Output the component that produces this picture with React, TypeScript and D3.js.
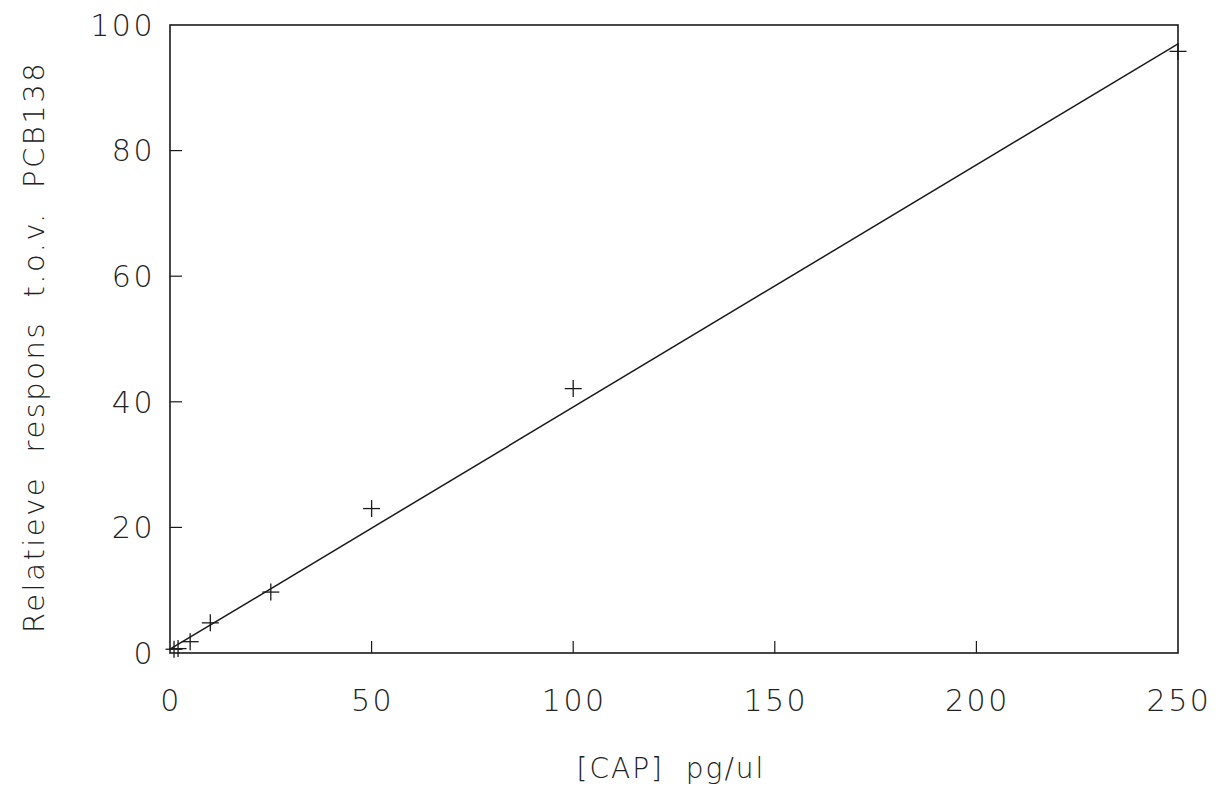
import React from "react";
import * as d3 from "d3";

const concX = [1, 2, 5, 10, 25, 50, 100, 250];
const respY = [0.6, 0.7, 1.8, 4.8, 9.7, 23.0, 42.1, 95.8];
const fitX = [0, 250];
const fitY = [0.6, 97.0];
const xTicks = [0, 50, 100, 150, 200, 250];
const yTicks = [0, 20, 40, 60, 80, 100];
const xLabel = "[CAP]  pg/ul";
const yLabel = "Relatieve  respons  t.o.v.  PCB138";

const W = 1217;
const H = 794;
const M = { left: 170, right: 1178, top: 25, bottom: 653 };
const FONT = "'DejaVu Sans', 'Noto Sans', sans-serif";

export default function App() {
  const x = d3.scaleLinear().domain([0, 250]).range([M.left, M.right]);
  const y = d3.scaleLinear().domain([0, 100]).range([M.bottom, M.top]);
  const line = d3
    .line<number>()
    .x((_, i) => x(fitX[i]))
    .y((d) => y(d));
  const arm = 8.5;
  const tickLen = 12;
  const col = "#1a1a1a";
  return (
    <svg
      width={W}
      height={H}
      style={{ position: "absolute", left: 0, top: 0, background: "#fff" }}
    >
      <rect
        x={M.left}
        y={M.top}
        width={M.right - M.left}
        height={M.bottom - M.top}
        fill="none"
        stroke={col}
        strokeWidth={1.6}
      />
      {xTicks.slice(1, -1).map((t) => (
        <line
          key={"xt" + t}
          x1={x(t)}
          x2={x(t)}
          y1={M.bottom}
          y2={M.bottom - tickLen}
          stroke={col}
          strokeWidth={1.2}
        />
      ))}
      {yTicks.slice(1, -1).map((t) => (
        <line
          key={"yt" + t}
          x1={M.left}
          x2={M.left + tickLen}
          y1={y(t)}
          y2={y(t)}
          stroke={col}
          strokeWidth={1.2}
        />
      ))}
      {xTicks.map((t) => (
        <text
          key={"xl" + t}
          x={x(t) + 1}
          y={711}
          textAnchor="middle"
          fontFamily={FONT}
          fontWeight={200}
          fontSize={30}
          letterSpacing={2.5}
          fill="#222"
        >
          {t}
        </text>
      ))}
      {yTicks.map((t) => (
        <text
          key={"yl" + t}
          x={155}
          y={y(t)}
          dy="0.36em"
          textAnchor="end"
          fontFamily={FONT}
          fontWeight={200}
          fontSize={30}
          letterSpacing={2.5}
          fill="#222"
        >
          {t}
        </text>
      ))}
      <path d={line(fitY) || ""} fill="none" stroke={col} strokeWidth={1.5} />
      {concX.map((cx, i) => (
        <g key={"p" + i} stroke={col} strokeWidth={1.3}>
          <line x1={x(cx) - arm} x2={x(cx) + arm} y1={y(respY[i])} y2={y(respY[i])} />
          <line x1={x(cx)} x2={x(cx)} y1={y(respY[i]) - arm} y2={y(respY[i]) + arm} />
        </g>
      ))}
      <text
        x={671}
        y={778}
        textAnchor="middle"
        fontFamily={FONT}
        fontWeight={200}
        fontSize={28}
        letterSpacing={2}
        fill="#222"
        style={{ whiteSpace: "pre" }}
      >
        {xLabel}
      </text>
      <text
        transform={`translate(44, ${347}) rotate(-90)`}
        textAnchor="middle"
        fontFamily={FONT}
        fontWeight={200}
        fontSize={29}
        letterSpacing={2.5}
        fill="#222"
        style={{ whiteSpace: "pre" }}
      >
        {yLabel}
      </text>
    </svg>
  );
}
